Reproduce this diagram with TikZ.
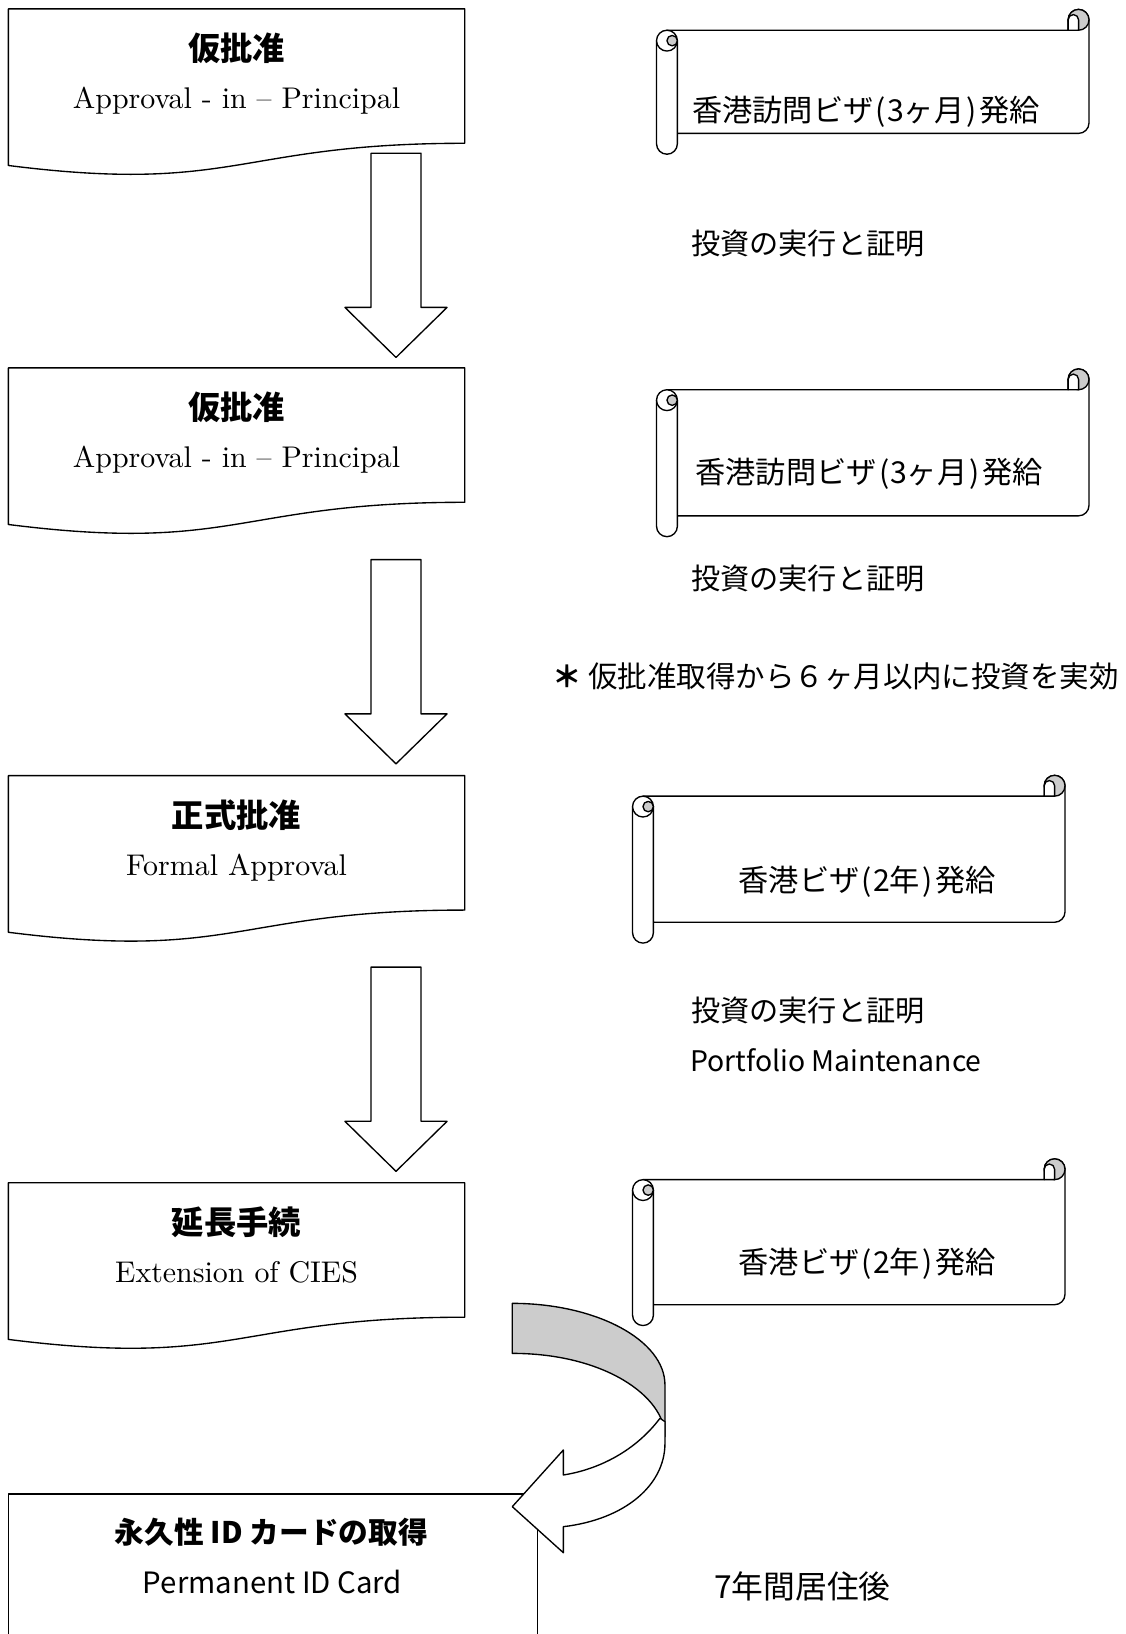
\documentclass[tikz,border=0pt]{standalone}
\usepackage{fontspec}
\newfontfamily\jp{Noto Sans CJK JP}
\newfontfamily\serifen{lmroman10-regular.otf}
\usetikzlibrary{positioning}

\newcommand{\halfw}[1]{\makebox[0.5em]{#1}}

\tikzset{
  outline/.style={draw=black, line width=1.3pt, line join=round},
  docbox/.style={outline, fill=white},
  blockarrow/.style={outline, fill=white},
  rolled/.style={outline, fill=black!20},
  titletext/.style={font=\jp\bfseries\fontsize{31}{37}\selectfont, inner sep=0pt},
  entext/.style={font=\serifen\fontsize{28.7}{35}\selectfont, inner sep=0pt, anchor=base},
  visatext/.style={font=\jp\fontsize{29}{34}\selectfont, inner sep=0pt},
  plaintext/.style={font=\jp\fontsize{28}{34}\selectfont, inner sep=0pt},
}

% horizontal scroll: #1 left, #2 top, #3 width, #4 height
\newcommand{\scrollbanner}[4]{%
  \begin{scope}[shift={(#1,#2)}]
    \filldraw[docbox] (10,20) -- ({#3-20},20) -- ({#3-20},10) arc (180:0:10pt)
      -- (#3,{#4-30}) arc (0:-90:10pt) -- (20,{#4-20}) -- cycle;
    \filldraw[rolled] ({#3-10},10) circle (10pt);
    \filldraw[docbox] ({#3-20},10) arc (180:0:5pt) -- ({#3-10},20) -- ({#3-20},20) -- cycle;
    \filldraw[docbox] (0,30) -- (0,{#4-10}) arc (180:360:10pt) -- (20,30);
    \filldraw[docbox] (10,30) circle (10pt);
    \filldraw[rolled] (15,30) circle (5pt);
  \end{scope}}

\begin{document}
\begin{tikzpicture}[x=1pt, y=-1pt]
\useasboundingbox (0,0) rectangle (1080.5,1568);
% application steps
\foreach \ytop in {8.5,353,744.3,1135}
  \draw[docbox] (8,\ytop) -- (446,\ytop) -- (446,{\ytop+129})
    .. controls (227,{\ytop+129}) and (227,{\ytop+178}) .. (8,{\ytop+150.3}) -- cycle;
% down arrows
\foreach \y in {147,537,928}
  \draw[blockarrow] (356,\y) -- (404,\y) -- (404,{\y+148}) -- (429,{\y+148})
    -- (380,{\y+196}) -- (331,{\y+148}) -- (356,{\y+148}) -- cycle;
% visa scrolls
\scrollbanner{630}{9}{415}{139}
\scrollbanner{630}{354}{415}{161}
\scrollbanner{607}{744}{415}{161}
\scrollbanner{607}{1112}{415}{160}
% permanent ID box, open at the bottom
\draw[outline] (8,1575) -- (8,1433.6) -- (515.6,1433.6) -- (515.6,1575);
% curved arrow
\filldraw[rolled] (491.6,1250.7) .. controls (572.2,1250.7) and (638.1,1286) .. (638.1,1329.1)
  -- (638.1,1378.6) .. controls (638.1,1340) and (580,1298.7) .. (491.6,1298.7) -- cycle;
\filldraw[docbox] (633.3,1361) .. controls (610,1392) and (575,1410) .. (540.6,1415.4)
  -- (540.6,1391.4) -- (491.6,1445.8) -- (540.6,1490) -- (540.6,1465)
  .. controls (600,1458) and (638.1,1425) .. (638.1,1385) -- (638.1,1364.2) -- cycle;

\node (aip1) [titletext] at (227,46) {仮批准};
\node (aip1en) [entext] at (227,104.2) {Approval - in – Principal};
\node (aip2) [titletext] at (227,390.7) {仮批准};
\node (aip2en) [entext] at (227,448.7) {Approval - in – Principal};
\node (formal) [titletext] at (227,782) {正式批准};
\node (formalen) [entext] at (227,840) {Formal Approval};
\node (ext) [titletext] at (227,1172.7) {延長手続};
\node (exten) [entext] at (227,1230.7) {Extension of CIES};

\node (visa1) [visatext] at (831,107) {香港訪問ビザ\halfw{(}\halfw{3}ヶ月\halfw{)}発給};
\node (visa2) [visatext] at (834,455) {香港訪問ビザ\halfw{(}\halfw{3}ヶ月\halfw{)}発給};
\node (visa3) [visatext] at (832,846) {香港ビザ\halfw{(}\halfw{2}年\halfw{)}発給};
\node (visa4) [visatext] at (832,1213) {香港ビザ\halfw{(}\halfw{2}年\halfw{)}発給};

\node (invest1) [plaintext, anchor=west] at (663,234) {投資の実行と証明};
\node (invest2) [plaintext, anchor=west] at (663,555) {投資の実行と証明};
\node (note) [plaintext, font=\jp\fontsize{28.3}{34}\selectfont, anchor=west] at (529.5,649) {{\bfseries ＊} 仮批准取得から６ヶ月以内に投資を実効};
\node (invest3) [plaintext, anchor=west] at (663,970) {投資の実行と証明};
\node (portfolio) [plaintext, font=\jp\fontsize{27.2}{33}\selectfont, anchor=west] at (662,1017) {Portfolio Maintenance};

\node (pid) [titletext, font=\jp\bfseries\fontsize{28.5}{34}\selectfont] at (260.5,1470) {永久性 ID カードの取得};
\node (piden) [plaintext, font=\jp\fontsize{28.2}{34}\selectfont] at (261.5,1518) {Permanent ID Card};
\node (stay) [plaintext, font=\jp\fontsize{30.5}{36}\selectfont] at (770,1522) {7年間居住後};
\end{tikzpicture}
\end{document}
